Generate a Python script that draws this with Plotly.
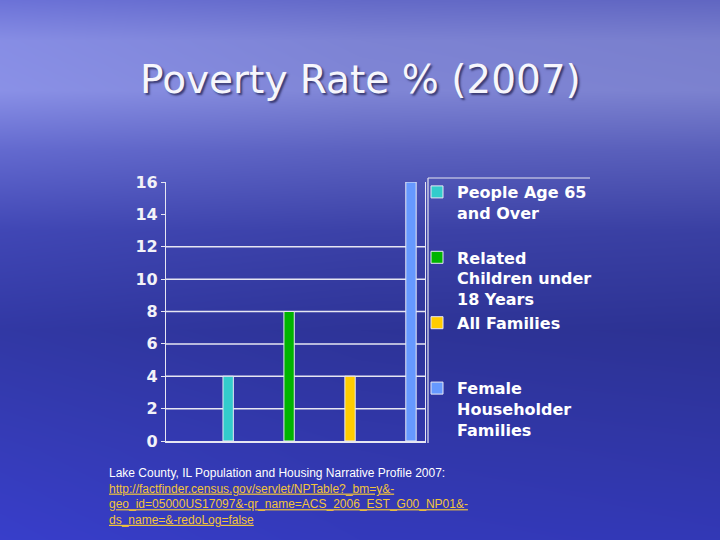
import base64, struct, zlib
import numpy as np
import plotly.graph_objects as go

# ---- data ----
series_names = ["People Age 65<br>and Over\u00a0<br>\u00a0",
                "Related<br>Children under<br>18 Years",
                "All Families<br>\u00a0<br>\u00a0",
                "Female<br>Householder<br>Families"]
series_values = [4, 8, 4, 16]
series_colors = ["#33cccc", "#00b400", "#ffcc00", "#6699ff"]
categories = ["a", "b", "c", "d"]
y_ticks = [0, 2, 4, 6, 8, 10, 12, 14, 16]
grid_vals = [2, 4, 6, 8, 10, 12]

title_text = "Poverty Rate % (2007)"
source_line = "Lake County, IL Population and Housing Narrative Profile 2007:"
link_lines = ["http://factfinder.census.gov/servlet/NPTable?_bm=y&-",
              "geo_id=05000US17097&-qr_name=ACS_2006_EST_G00_NP01&-",
              "ds_name=&-redoLog=false"]

# ---- background image (gradient) ----
W, H = 720, 540
ys = np.arange(H)
stops_y = [0, 40, 90, 150, 230, 330, 450, 540]
cols = np.array([[100, 106, 200], [125, 131, 212], [128, 134, 214], [92, 98, 192],
                 [60, 66, 168], [46, 52, 152], [50, 56, 172], [52, 58, 188]], float)
img = np.zeros((H, W, 3))
for c in range(3):
    col = np.interp(ys, stops_y, cols[:, c])
    img[:, :, c] = col[:, None]
xs = np.arange(W)
hfac = np.interp(xs, [0, 360, 720], [1.08, 1.0, 0.97])
img = img * hfac[None, :, None]
img = np.clip(img, 0, 255).astype(np.uint8)

def png_uri(a):
    h, w, _ = a.shape
    raw = b"".join(b"\x00" + a[i].tobytes() for i in range(h))
    def chunk(t, d):
        return struct.pack(">I", len(d)) + t + d + struct.pack(">I", zlib.crc32(t + d) & 0xffffffff)
    png = b"\x89PNG\r\n\x1a\n" + chunk(b"IHDR", struct.pack(">IIBBBBB", w, h, 8, 2, 0, 0, 0)) \
        + chunk(b"IDAT", zlib.compress(raw, 9)) + chunk(b"IEND", b"")
    return "data:image/png;base64," + base64.b64encode(png).decode()

# ---- layout geometry ----
ML, MR, MT, MB = 166, 295, 182, 99
PW, PH = W - ML - MR, H - MT - MB

def px(x):
    return (x - ML) / PW

def py(y):
    return (H - MB - y) / PH

fig = go.Figure()
for name, val, col, cat in zip(series_names, series_values, series_colors, categories):
    fig.add_trace(go.Bar(x=[cat], y=[val], name=name, legendgroup=name,
                         marker=dict(color=col, line=dict(color="#e8e8f4", width=1)),
                         width=0.17))

fig.add_layout_image(dict(source=png_uri(img), xref="paper", yref="paper",
                          x=px(0), y=py(0), sizex=W / PW, sizey=H / PH,
                          xanchor="left", yanchor="top", sizing="stretch", layer="below"))

for g in grid_vals:
    fig.add_shape(type="line", xref="paper", yref="y", x0=0, x1=1, y0=g, y1=g,
                  line=dict(color="#e6e6f2", width=1.5), layer="below")

# legend frame lines
fig.add_shape(type="line", xref="paper", yref="paper", x0=px(428), x1=px(428),
              y0=py(178), y1=py(443), line=dict(color="#e6e6f2", width=1.2))
fig.add_shape(type="line", xref="paper", yref="paper", x0=px(428), x1=px(590),
              y0=py(178), y1=py(178), line=dict(color="#e6e6f2", width=1.2))

fig.add_annotation(text=title_text, xref="paper", yref="paper", x=px(360), y=py(80),
                   xanchor="center", yanchor="middle", showarrow=False,
                   font=dict(family="DejaVu Sans", size=39, color="#f6f6fc",
                             shadow="2px 2px 2px rgba(40,40,90,0.8)"))

foot = source_line + "".join(
    "<br><a href='http://factfinder.census.gov' style='color:#f2c43a'><u>" + l.replace("&", "&amp;") + "</u></a>"
    for l in link_lines)
fig.add_annotation(text=foot, xref="paper", yref="paper", x=px(107), y=py(464),
                   xanchor="left", yanchor="top", align="left", showarrow=False,
                   font=dict(family="Liberation Sans", size=12, color="#ffffff"))

fig.update_layout(
    width=W, height=H,
    margin=dict(l=ML, r=MR, t=MT, b=MB, pad=0),
    paper_bgcolor="#3a3fa8", plot_bgcolor="rgba(0,0,0,0)",
    showlegend=True, barmode="overlay",
    legend=dict(x=px(417), y=py(175), xanchor="left", yanchor="top",
                font=dict(family="DejaVu Sans", size=16, color="#ffffff", weight="bold"),
                bgcolor="rgba(0,0,0,0)", tracegroupgap=5, valign="top",
                traceorder="normal", maxheight=400),
    xaxis=dict(type="category", categoryorder="array", categoryarray=categories,
               range=[-1.02, 3.23], showticklabels=False, ticks="",
               showgrid=False, zeroline=False, showline=True,
               linecolor="#e6e6f2", linewidth=1.5, fixedrange=True),
    yaxis=dict(range=[0, 16], tickvals=y_ticks, showgrid=False, zeroline=False,
               showline=True, mirror=True, linecolor="#e6e6f2", linewidth=1.2,
               ticks="outside", ticklen=4, tickcolor="#e6e6f2",
               tickfont=dict(family="DejaVu Sans", size=16, color="#f2f2f8", weight="bold")),
)

fig.write_html("out.html", config={"displayModeBar": False},
               post_script="document.body.style.margin='0';document.body.style.padding='0';")
